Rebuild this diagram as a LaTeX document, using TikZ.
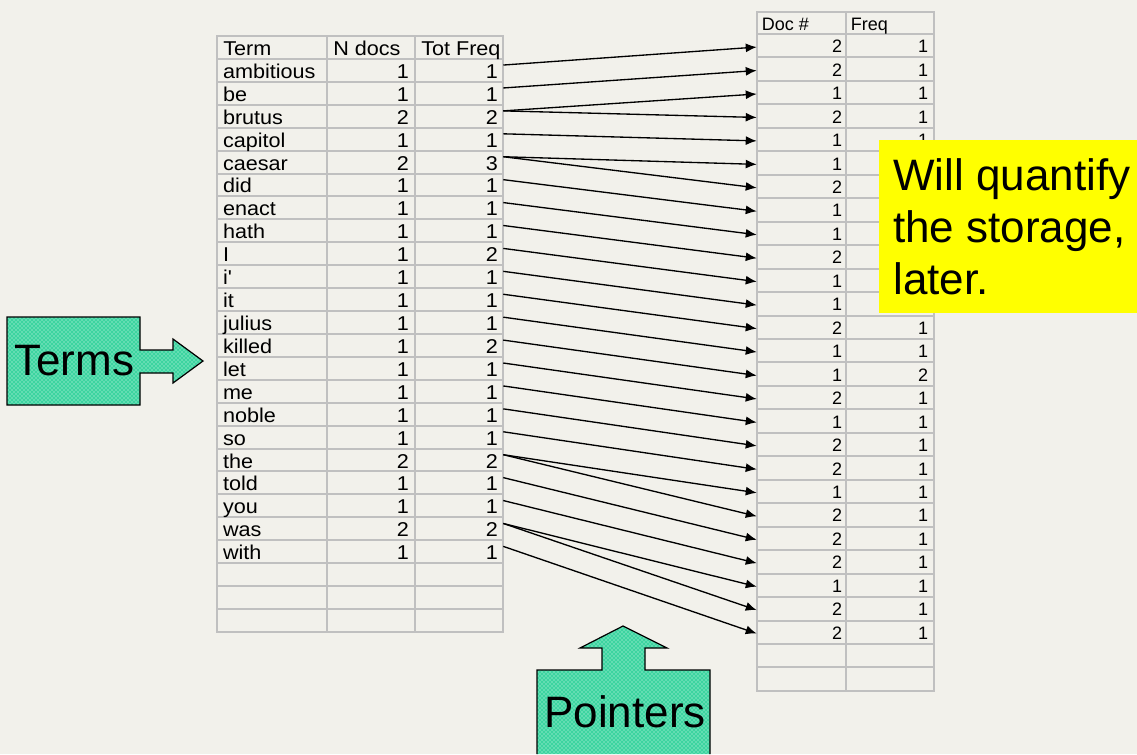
\documentclass[tikz,border=0pt]{standalone}
\usepackage{fontspec}
\setmainfont{Liberation Sans}
\newfontfamily\tblfont[FakeStretch=1.08]{Liberation Sans}
\usetikzlibrary{arrows.meta,patterns}
\definecolor{bg}{RGB}{242,241,235}
\definecolor{gridc}{RGB}{192,192,192}
\definecolor{tealfill}{RGB}{60,212,160}
\definecolor{tealdot}{RGB}{225,252,242}
\definecolor{noteyellow}{RGB}{255,255,0}
\begin{document}
\begin{tikzpicture}[x=0.75pt,y=-0.75pt,
  gridline/.style={draw=gridc,line width=1.5pt,line cap=rect},
  lcell/.style={inner ysep=0pt,text height=12pt,text depth=0pt,minimum height=17.19pt,font=\tblfont\fontsize{15}{18}\selectfont},
  lhead/.style={lcell,anchor=west,inner xsep=4.5pt},
  termcell/.style={lcell,inner xsep=4.5pt,text width=73.5pt,align=left},
  ndcell/.style={lcell,inner xsep=4.5pt,text width=57pt,align=right},
  tfcell/.style={lcell,inner xsep=3.75pt,text width=58.5pt,align=right},
  rcell/.style={inner ysep=0pt,text height=10.5pt,text depth=0pt,minimum height=17.6pt,font=\fontsize{13.5}{16}\selectfont},
  rhead/.style={rcell,anchor=west,inner xsep=3.5pt},
  doccell/.style={rcell,inner xsep=3pt,text width=60.75pt,align=right},
  fqcell/.style={rcell,inner xsep=4.5pt,text width=57pt,align=right},
  ptr/.style={draw=black,line width=1pt,-{Latex[length=8.25pt,width=6.75pt]}},
  blockarrow/.style={preaction={fill=tealfill},pattern=crosshatch dots,pattern color=tealdot},
  biglabel/.style={anchor=base west,inner sep=0pt,font=\fontsize{33}{39}\selectfont}
]
\useasboundingbox (0,0) rectangle (1137,754);
\fill[bg] (0,0) rectangle (1137,754);

% ---- left table grid
\foreach \r in {0,...,26}
  \draw[gridline] (217,{36+\r*22.92}) -- (503,{36+\r*22.92});
\foreach \x in {217,327,415,503}
  \draw[gridline] (\x,36) -- (\x,631.9);

% ---- right table grid
\draw[gridline] (757,12) -- (934,12);
\foreach \m in {0,...,28}
  \draw[gridline] (757,{34+\m*23.46}) -- (934,{34+\m*23.46});
\foreach \x in {757,846,934}
  \draw[gridline] (\x,12) -- (\x,690.9);

% ---- left table text
\node[lhead] (hterm) at (217,47.46) {Term};
\node[lhead] (hnd) at (327,47.46) {N docs};
\node[lhead] (htf) at (415,47.46) {Tot Freq};
\foreach \t/\n/\f [count=\i] in {ambitious/1/1,be/1/1,brutus/2/2,capitol/1/1,caesar/2/3,did/1/1,enact/1/1,hath/1/1,I/1/2,i\textquotesingle/1/1,it/1/1,julius/1/1,killed/1/2,let/1/1,me/1/1,noble/1/1,so/1/1,the/2/2,told/1/1,you/1/1,was/2/2,with/1/1}{
  \pgfmathsetmacro\yy{36+(\i+0.5)*22.92}
  \node[termcell] (tm\i) at (272,\yy) {\t};
  \node[ndcell] (nd\i) at (371,\yy) {\n};
  \node[tfcell] (tf\i) at (459,\yy) {\f};
}

% ---- right table text
\node[rhead] (hdoc) at (757,23) {Doc \#};
\node[rhead] (hfq) at (846,23) {Freq};
\foreach \d/\f [count=\k from 0] in {2/1,2/1,1/1,2/1,1/1,1/{},2/{},1/{},1/{},2/{},1/{},1/{},2/1,1/1,1/2,2/1,1/1,2/1,2/1,1/1,2/1,2/1,2/1,1/1,2/1,2/1}{
  \pgfmathsetmacro\yy{34+(\k+0.5)*23.46}
  \node[doccell] (dc\k) at (801.5,\yy) {\d};
  \node[fqcell] (fq\k) at (890,\yy) {\f};
}

% ---- pointers
\foreach \i/\k in {1/0,2/1,3/2,3/3,4/4,5/5,5/6,6/7,7/8,8/9,9/10,10/11,11/12,12/13,13/14,14/15,15/16,16/17,17/18,18/19,18/20,19/21,20/22,21/23,21/24,22/25}
  \draw[ptr] ([yshift=4pt]tf\i.east) -- ([yshift=-1pt]dc\k.west);

% ---- note
\node[fill=noteyellow,inner sep=0pt,minimum width=193.5pt,minimum height=129.75pt,anchor=north west] (notebox) at (879,140) {};
\node[anchor=north west,inner sep=0pt,align=left,font=\fontsize{33}{39}\selectfont] (notetext) at (893,158) {Will quantify\\the storage,\\later.};

% ---- Terms block arrow
\path[blockarrow,draw=black,line width=0.9pt,line join=miter]
  (7,317) -- (140,317) -- (140,350) -- (173,350) -- (173,339) -- (203,361)
  -- (173,383) -- (173,373) -- (140,373) -- (140,405) -- (7,405) -- cycle;
\node[biglabel] (termslbl) at (14,375) {Terms};

% ---- Pointers block arrow
\path[blockarrow]
  (537,754) -- (537,670) -- (602,670) -- (602,648) -- (580,648) -- (623,626)
  -- (667,648) -- (645,648) -- (645,670) -- (710,670) -- (710,754) -- cycle;
\draw[black,line width=0.9pt,line join=miter]
  (537,754) -- (537,670) -- (602,670) -- (602,648) -- (580,648) -- (623,626)
  -- (667,648) -- (645,648) -- (645,670) -- (710,670) -- (710,754);
\node[biglabel] (ptrlbl) at (544,727) {Pointers};
\end{tikzpicture}
\end{document}
